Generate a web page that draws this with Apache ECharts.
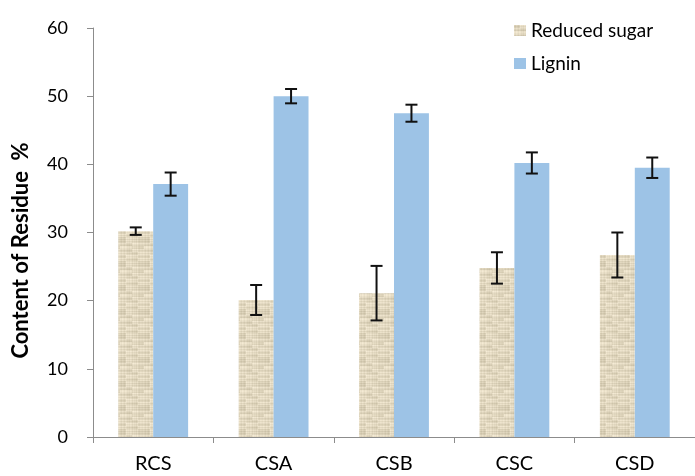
<!DOCTYPE html>
<html>
<head>
<meta charset="utf-8">
<script src="https://cdn.jsdelivr.net/npm/echarts@6/dist/echarts.min.js"></script>
<style>
  html, body { margin: 0; padding: 0; background: #fff; }
  #chart { width: 695px; height: 476px; }
</style>
</head>
<body>
<div id="chart"></div>
<script>
// Sample groups
const categories = ['RCS', 'CSA', 'CSB', 'CSC', 'CSD'];
// Mean content (%)
const reducedSugar = [30.2, 20.1, 21.1, 24.8, 26.7];
const lignin = [37.1, 50.0, 47.5, 40.2, 39.5];
// Standard deviations
const reducedSugarErr = [0.55, 2.2, 4.0, 2.3, 3.3];
const ligninErr = [1.7, 1.05, 1.25, 1.55, 1.5];

const FONT = 'Lato, "Open Sans", sans-serif';
const CAT_GAP = 0.42;

// Woven beige texture for the reduced-sugar bars (fixed shading tables)
function makeTexture() {
  const size = 24;
  const c = document.createElement('canvas');
  c.width = size; c.height = size;
  const g = c.getContext('2d');
  const rowShade = [6, -10, 2, 10, -4, -14, 4, 8, -2, 12, -8, 0, 6, -12, 3, 9, -6, 1, 11, -9, 5, -3, 8, -11];
  const colShade = [2, -4, 5, 0, -6, 3, 6, -2, 1, -5, 4, 0, -3, 6, -1, 2, -6, 5, 0, -4, 3, 1, -2, 4];
  for (let y = 0; y < size; y++) {
    for (let x = 0; x < size; x++) {
      const block = ((Math.floor(x / 6) * 5 + Math.floor(y / 3) * 3) % 7) - 3;
      const d = rowShade[y] * 0.7 + colShade[x] + block * 3;
      const r = Math.max(0, Math.min(255, 224 + d));
      const gg = Math.max(0, Math.min(255, 214 + d));
      const b = Math.max(0, Math.min(255, 190 + d * 1.1));
      g.fillStyle = 'rgb(' + Math.round(r) + ',' + Math.round(gg) + ',' + Math.round(b) + ')';
      g.fillRect(x, y, 1, 1);
    }
  }
  return c;
}
const sugarFill = { image: makeTexture(), repeat: 'repeat' };

function errorSeries(name, means, errs, side) {
  return {
    type: 'custom',
    name: name + ' error',
    z: 10,
    silent: true,
    data: means.map((m, i) => [i, m - errs[i], m + errs[i]]),
    renderItem: function (params, api) {
      const band = api.size([1, 0])[0];
      const barW = band * (1 - CAT_GAP) / 2;
      const lo = api.coord([api.value(0), api.value(1)]);
      const hi = api.coord([api.value(0), api.value(2)]);
      const x = lo[0] + side * barW / 2;
      const hw = 6;
      const style = { stroke: '#111', lineWidth: 2 };
      return {
        type: 'group',
        children: [
          { type: 'line', shape: { x1: x, y1: hi[1], x2: x, y2: lo[1] }, style },
          { type: 'line', shape: { x1: x - hw, y1: hi[1], x2: x + hw, y2: hi[1] }, style },
          { type: 'line', shape: { x1: x - hw, y1: lo[1], x2: x + hw, y2: lo[1] }, style }
        ]
      };
    }
  };
}

const chart = echarts.init(document.getElementById('chart'));
chart.setOption({
  animation: false,
  backgroundColor: '#fff',
  grid: { left: 93, right: 0, top: 28, bottom: 39, containLabel: false },
  legend: {
    orient: 'vertical',
    left: 509,
    top: 16,
    itemWidth: 12,
    itemHeight: 11,
    itemGap: 14,
    icon: 'rect',
    data: ['Reduced sugar', 'Lignin'],
    textStyle: { fontFamily: FONT, fontSize: 19, color: '#000' }
  },
  xAxis: {
    type: 'category',
    data: categories,
    axisLine: { lineStyle: { color: '#8c8c8c', width: 1 } },
    axisTick: { show: true, length: 6, alignWithLabel: false, lineStyle: { color: '#8c8c8c' } },
    axisLabel: { fontFamily: FONT, fontSize: 20, color: '#000', margin: 17 }
  },
  yAxis: {
    type: 'value',
    min: 0, max: 60, interval: 10,
    name: 'Content of Residue  %',
    nameLocation: 'middle',
    nameGap: 61,
    nameTextStyle: {
      fontFamily: FONT, fontSize: 22, fontWeight: 'bold', color: '#000',
      padding: [0, 36, 0, 0]
    },
    axisLine: { show: true, lineStyle: { color: '#8c8c8c', width: 1 } },
    axisTick: { show: true, length: 6, lineStyle: { color: '#8c8c8c' } },
    splitLine: { show: false },
    axisLabel: { fontFamily: FONT, fontSize: 18, color: '#000', margin: 25 }
  },
  series: [
    {
      name: 'Reduced sugar',
      type: 'bar',
      data: reducedSugar,
      barGap: '0%',
      barCategoryGap: (CAT_GAP * 100) + '%',
      itemStyle: { color: sugarFill }
    },
    {
      name: 'Lignin',
      type: 'bar',
      data: lignin,
      itemStyle: { color: '#9dc3e6' }
    },
    errorSeries('Reduced sugar', reducedSugar, reducedSugarErr, -1),
    errorSeries('Lignin', lignin, ligninErr, 1)
  ]
});
</script>
</body>
</html>
